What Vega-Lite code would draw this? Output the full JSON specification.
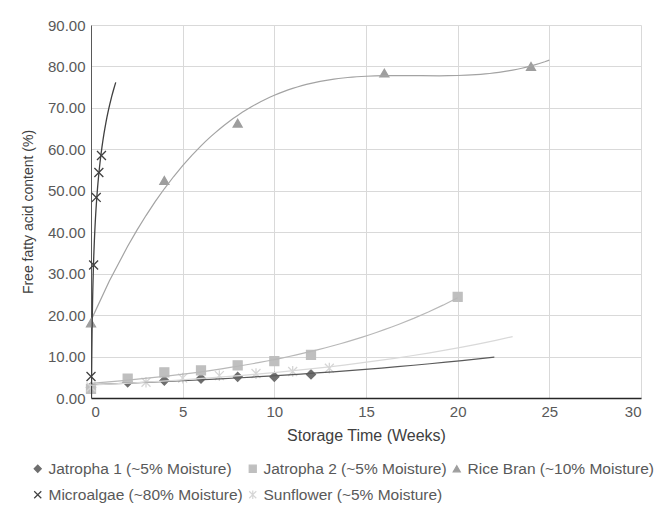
{
  "$schema": "https://vega.github.io/schema/vega-lite/v6.json",
  "autosize": {"type": "none"},
  "width": 550,
  "height": 373,
  "padding": {"left": 91, "top": 25, "right": 29, "bottom": 110},
  "background": "white",
  "config": {
    "font": "Liberation Sans",
    "view": {"stroke": null},
    "axis": {"labelColor": "#595959", "titleColor": "#404040", "labelFontSize": 15, "titleFontSize": 16, "titleFontWeight": "normal", "gridColor": "#d9d9d9", "ticks": false, "labelPadding": 6}
  },
  "data": {
    "values": [
      {"series": "Jatropha 1 (~5% Moisture)", "week": 0, "ffa": 2.6},
      {"series": "Jatropha 1 (~5% Moisture)", "week": 2, "ffa": 3.8},
      {"series": "Jatropha 1 (~5% Moisture)", "week": 4, "ffa": 4.2},
      {"series": "Jatropha 1 (~5% Moisture)", "week": 6, "ffa": 4.7},
      {"series": "Jatropha 1 (~5% Moisture)", "week": 8, "ffa": 5.1},
      {"series": "Jatropha 1 (~5% Moisture)", "week": 10, "ffa": 5.1},
      {"series": "Jatropha 1 (~5% Moisture)", "week": 12, "ffa": 5.7},
      {"series": "Jatropha 2 (~5% Moisture)", "week": 0, "ffa": 2.2},
      {"series": "Jatropha 2 (~5% Moisture)", "week": 2, "ffa": 4.65},
      {"series": "Jatropha 2 (~5% Moisture)", "week": 4, "ffa": 6.2},
      {"series": "Jatropha 2 (~5% Moisture)", "week": 6, "ffa": 6.65},
      {"series": "Jatropha 2 (~5% Moisture)", "week": 8, "ffa": 7.9},
      {"series": "Jatropha 2 (~5% Moisture)", "week": 10, "ffa": 8.9},
      {"series": "Jatropha 2 (~5% Moisture)", "week": 12, "ffa": 10.4},
      {"series": "Jatropha 2 (~5% Moisture)", "week": 20, "ffa": 24.4},
      {"series": "Rice Bran (~10% Moisture)", "week": 0, "ffa": 18.1},
      {"series": "Rice Bran (~10% Moisture)", "week": 4, "ffa": 52.5},
      {"series": "Rice Bran (~10% Moisture)", "week": 8, "ffa": 66.3},
      {"series": "Rice Bran (~10% Moisture)", "week": 16, "ffa": 78.4},
      {"series": "Rice Bran (~10% Moisture)", "week": 24, "ffa": 80.0},
      {"series": "Microalgae (~80% Moisture)", "week": 0, "ffa": 5.2},
      {"series": "Microalgae (~80% Moisture)", "week": 0.143, "ffa": 32.1},
      {"series": "Microalgae (~80% Moisture)", "week": 0.286, "ffa": 48.4},
      {"series": "Microalgae (~80% Moisture)", "week": 0.429, "ffa": 54.4},
      {"series": "Microalgae (~80% Moisture)", "week": 0.571, "ffa": 58.5},
      {"series": "Sunflower (~5% Moisture)", "week": 0, "ffa": 2.65},
      {"series": "Sunflower (~5% Moisture)", "week": 3, "ffa": 3.8},
      {"series": "Sunflower (~5% Moisture)", "week": 5, "ffa": 4.8},
      {"series": "Sunflower (~5% Moisture)", "week": 7, "ffa": 5.4},
      {"series": "Sunflower (~5% Moisture)", "week": 9, "ffa": 5.9},
      {"series": "Sunflower (~5% Moisture)", "week": 11, "ffa": 6.4},
      {"series": "Sunflower (~5% Moisture)", "week": 13, "ffa": 7.2}
    ]
  },
  "encoding": {
    "x": {"field": "week", "type": "quantitative", "scale": {"domain": [0, 30], "nice": false},
      "axis": {"title": "Storage Time (Weeks)", "values": [0, 5, 10, 15, 20, 25, 30], "format": "d", "domainColor": "#262626", "domainWidth": 1.5, "titlePadding": 8}},
    "y": {"field": "ffa", "type": "quantitative", "scale": {"domain": [0, 90], "nice": false},
      "axis": {"title": "Free fatty acid content (%)", "titleFontSize": 14, "values": [0, 10, 20, 30, 40, 50, 60, 70, 80, 90], "format": ".2f", "domainColor": "#595959", "titlePadding": 12}}
  },
  "layer": [
    {
      "mark": {"type": "point", "filled": false, "strokeWidth": 1.3, "opacity": 1, "size": 80},
      "encoding": {
        "shape": {"field": "series", "type": "nominal", "scale": {"domain": ["Jatropha 1 (~5% Moisture)", "Jatropha 2 (~5% Moisture)", "Rice Bran (~10% Moisture)", "Microalgae (~80% Moisture)", "Sunflower (~5% Moisture)"], "range": ["diamond", "square", "triangle-up", "M-1,-1L1,1M-1,1L1,-1", "M-1,-1L1,1M-1,1L1,-1M0,-1.2L0,1.2"]},
          "legend": {"title": null, "orient": "none", "legendX": -61, "legendY": 436, "direction": "horizontal", "columns": 3, "gridAlign": "none", "columnPadding": 2, "rowPadding": 9, "labelFontSize": 15.5, "labelColor": "#595959", "symbolSize": 50, "symbolStrokeWidth": 1.2, "labelOffset": 3, "labelLimit": 300}},
        "fill": {"field": "series", "type": "nominal", "scale": {"domain": ["Jatropha 1 (~5% Moisture)", "Jatropha 2 (~5% Moisture)", "Rice Bran (~10% Moisture)", "Microalgae (~80% Moisture)", "Sunflower (~5% Moisture)"], "range": ["#6e6e6e", "#bfbfbf", "#9e9e9e", "transparent", "transparent"]}},
        "stroke": {"field": "series", "type": "nominal", "scale": {"domain": ["Jatropha 1 (~5% Moisture)", "Jatropha 2 (~5% Moisture)", "Rice Bran (~10% Moisture)", "Microalgae (~80% Moisture)", "Sunflower (~5% Moisture)"], "range": ["#6e6e6e", "#bfbfbf", "#9e9e9e", "#404040", "#d6d6d6"]}}
      }
    },
    {
      "transform": [{"filter": "datum.series === 'Jatropha 1 (~5% Moisture)'"}, {"regression": "ffa", "on": "week", "method": "exp", "extent": [0, 22]}],
      "mark": {"type": "line", "color": "#5a5a5a", "strokeWidth": 1.2}
    },
    {
      "transform": [{"filter": "datum.series === 'Jatropha 2 (~5% Moisture)'"}, {"regression": "ffa", "on": "week", "method": "exp", "extent": [0, 20]}],
      "mark": {"type": "line", "color": "#b8b8b8", "strokeWidth": 1.2}
    },
    {
      "transform": [{"filter": "datum.series === 'Rice Bran (~10% Moisture)'"}, {"regression": "ffa", "on": "week", "method": "poly", "order": 3, "extent": [0, 25]}],
      "mark": {"type": "line", "color": "#a3a3a3", "strokeWidth": 1.2}
    },
    {
      "transform": [{"filter": "datum.series === 'Microalgae (~80% Moisture)' && datum.week > 0"}, {"regression": "ffa", "on": "week", "method": "log", "extent": [0.003, 1.35]}],
      "mark": {"type": "line", "color": "#404040", "strokeWidth": 1.3, "clip": true}
    },
    {
      "transform": [{"filter": "datum.series === 'Sunflower (~5% Moisture)'"}, {"regression": "ffa", "on": "week", "method": "exp", "extent": [0, 23]}],
      "mark": {"type": "line", "color": "#d9d9d9", "strokeWidth": 1.2}
    }
  ]
}
